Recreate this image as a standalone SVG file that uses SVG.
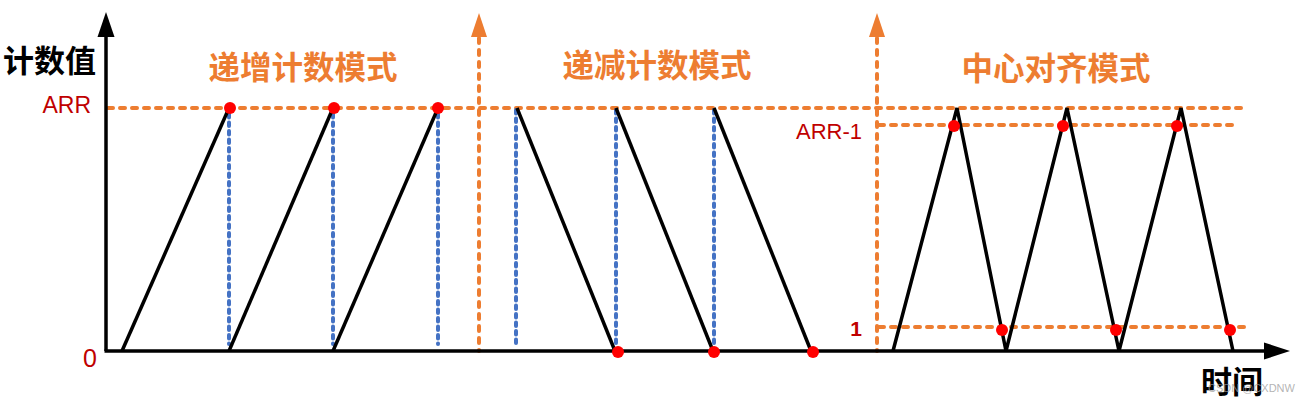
<svg xmlns="http://www.w3.org/2000/svg" width="1302" height="404" viewBox="0 0 1302 404">
<style>
.ax{stroke:#000;stroke-width:3.5;fill:none}
.wave{stroke:#000;stroke-width:3.5;fill:none;stroke-linejoin:miter}
.od{stroke:#ED7D31;stroke-width:4;fill:none;stroke-linecap:round;stroke-dasharray:5 7}
.bd{stroke:#4472C4;stroke-width:4;fill:none;stroke-linecap:round;stroke-dasharray:3.5 5}
.dot{fill:#FF0000}
.title{font-family:"Noto Sans CJK SC","Noto Sans",sans-serif;font-weight:bold;font-size:31.5px;fill:#ED7D31;text-anchor:middle}
.axl{font-family:"Noto Sans CJK SC","Noto Sans",sans-serif;font-weight:bold;font-size:31px;fill:#000}
.val{font-family:"Liberation Sans",Arial,sans-serif;fill:#C00000;text-anchor:end}
</style>
<rect width="1302" height="404" fill="#fff"/>
<g id="guides">
<line class="od" x1="108" y1="108" x2="1241" y2="108"/>
<line class="od" x1="879" y1="125" x2="1235" y2="125"/>
<line class="od" x1="879" y1="327" x2="1247" y2="327"/>
<line class="od" x1="479" y1="38" x2="479" y2="351"/>
<path d="M479 13 L471 37 L487 37 Z" fill="#ED7D31"/>
<line class="od" x1="877" y1="38" x2="877" y2="351"/>
<path d="M877 13 L869 37 L885 37 Z" fill="#ED7D31"/>
<line class="bd" x1="229" y1="114" x2="229" y2="344"/>
<line class="bd" x1="333" y1="114" x2="333" y2="344"/>
<line class="bd" x1="438" y1="114" x2="438" y2="344"/>
<line class="bd" x1="516" y1="110" x2="516" y2="343"/>
<line class="bd" x1="616" y1="110" x2="616" y2="344"/>
<line class="bd" x1="714" y1="110" x2="714" y2="344"/>
</g>
<g id="axes">
<line class="ax" x1="106" y1="351" x2="106" y2="34"/>
<path d="M106 12 L97.5 37 L114.5 37 Z" fill="#000"/>
<line class="ax" x1="104.5" y1="351" x2="1266" y2="351"/>
<path d="M1290 351 L1264 342.5 L1264 359.5 Z" fill="#000"/>
</g>
<g id="up-counting">
<line class="wave" x1="122" y1="351" x2="229" y2="108"/>
<line class="wave" x1="229" y1="351" x2="333" y2="108"/>
<line class="wave" x1="333" y1="351" x2="438" y2="108"/>
<circle class="dot" cx="230" cy="108" r="6"/>
<circle class="dot" cx="334" cy="108" r="6"/>
<circle class="dot" cx="438" cy="108" r="6"/>
</g>
<g id="down-counting">
<line class="wave" x1="517" y1="108" x2="615" y2="351"/>
<line class="wave" x1="616" y1="108" x2="713" y2="351"/>
<line class="wave" x1="714" y1="108" x2="811" y2="351"/>
<circle class="dot" cx="618" cy="352" r="6"/>
<circle class="dot" cx="714" cy="352" r="6"/>
<circle class="dot" cx="813" cy="352" r="6"/>
</g>
<g id="center-aligned">
<polyline class="wave" points="893,351 957,108 1006,351 1067,108 1119,351 1181,108 1233,351"/>
<circle class="dot" cx="954" cy="126" r="6"/>
<circle class="dot" cx="1063" cy="126" r="6"/>
<circle class="dot" cx="1177" cy="126" r="6"/>
<circle class="dot" cx="1002" cy="330" r="6"/>
<circle class="dot" cx="1116" cy="330" r="6"/>
<circle class="dot" cx="1230" cy="330" r="6"/>
</g>
<g id="labels">
<text class="axl" x="3" y="72">计数值</text>
<text class="axl" x="1201" y="393">时间</text>
<text class="title" x="303" y="79">递增计数模式</text>
<text class="title" x="657" y="77">递减计数模式</text>
<text class="title" x="1056" y="80">中心对齐模式</text>
<text class="val" x="91" y="113" font-size="23">ARR</text>
<text class="val" x="862" y="139" font-size="22">ARR-1</text>
<text class="val" x="862" y="336" font-size="21" font-weight="bold">1</text>
<text class="val" x="97" y="367" font-size="25">0</text>
<text fill="#9a9a9a" fill-opacity="0.75" font-family="Liberation Sans,Arial,sans-serif" font-size="11" x="1208" y="392">CSDN @CXDNW</text>
</g>
</svg>
